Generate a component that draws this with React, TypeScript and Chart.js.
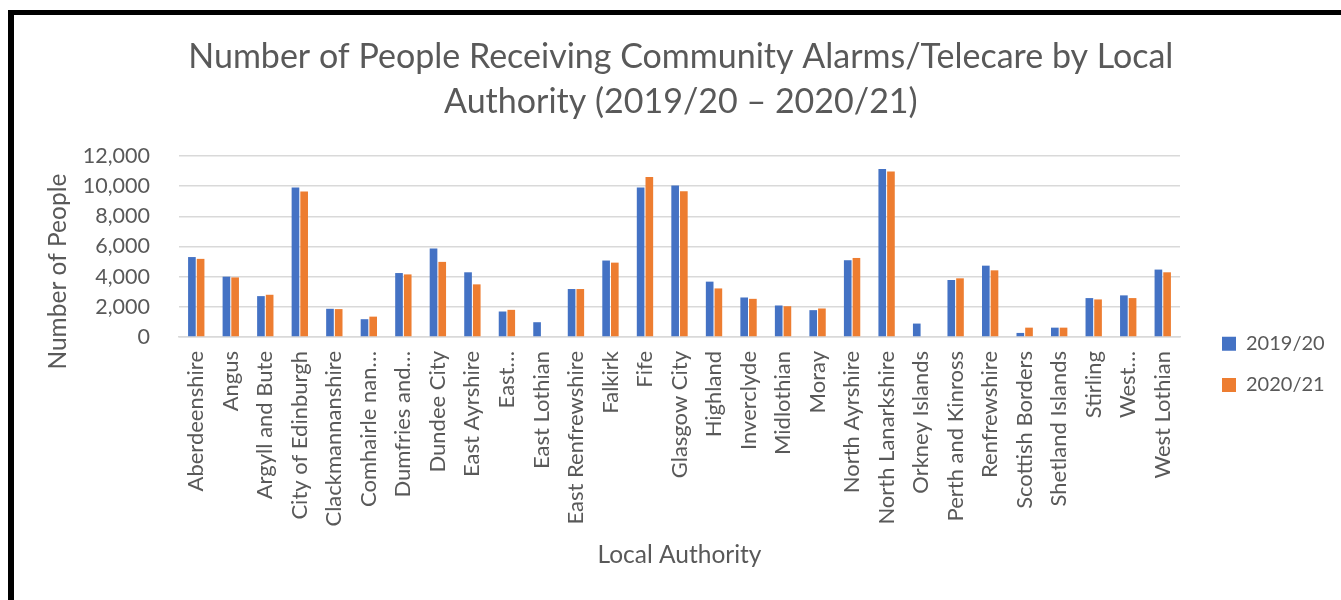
import React, { useEffect, useRef } from "react";
import { Chart, registerables } from "chart.js";

Chart.register(...registerables);

const categories: string[] = [
  "Aberdeenshire", "Angus", "Argyll and Bute", "City of Edinburgh", "Clackmannanshire",
  "Comhairle nan…", "Dumfries and…", "Dundee City", "East Ayrshire", "East…",
  "East Lothian", "East Renfrewshire", "Falkirk", "Fife", "Glasgow City",
  "Highland", "Inverclyde", "Midlothian", "Moray", "North Ayrshire",
  "North Lanarkshire", "Orkney Islands", "Perth and Kinross", "Renfrewshire", "Scottish Borders",
  "Shetland Islands", "Stirling", "West…", "West Lothian",
];

const values2019: (number | null)[] = [
  5300, 4000, 2710, 9910, 1870, 1180, 4240, 5870, 4290, 1690,
  980, 3180, 5070, 9910, 10040, 3670, 2620, 2090, 1780, 5090,
  11130, 890, 3780, 4730, 270, 620, 2580, 2760, 4470,
];

const values2020: (number | null)[] = [
  5180, 3950, 2800, 9640, 1850, 1350, 4150, 4980, 3490, 1800,
  null, 3180, 4930, 10600, 9670, 3220, 2530, 2040, 1890, 5240,
  10980, null, 3890, 4420, 620, 620, 2490, 2580, 4290,
];

const seriesLabels = ["2019/20", "2020/21"];
const titleLines = [
  "Number of People Receiving Community Alarms/Telecare by Local",
  "Authority (2019/20 – 2020/21)",
];
// trailing spaces nudge the rotated title toward the bottom, as in the original
const yTitle = "Number of People        ";
const xTitle = "Local Authority";

const FONT = "Lato";
const TEXT = "#595959";

export default function App() {
  const canvasRef = useRef<HTMLCanvasElement | null>(null);

  useEffect(() => {
    let chart: Chart | null = null;
    let cancelled = false;
    const build = () => {
      if (cancelled || !canvasRef.current) return;
      chart = new Chart(canvasRef.current, {
        type: "bar",
        data: {
          labels: categories,
          datasets: [
            {
              label: seriesLabels[0],
              data: values2019,
              backgroundColor: "#4472C4",
              categoryPercentage: 0.504,
              barPercentage: 0.88,
            },
            {
              label: seriesLabels[1],
              data: values2020,
              backgroundColor: "#ED7D31",
              categoryPercentage: 0.504,
              barPercentage: 0.88,
            },
          ],
        },
        options: {
          responsive: false,
          animation: false,
          layout: { padding: { left: 35, right: 14.3, top: 0, bottom: 0 } },
          plugins: {
            tooltip: { enabled: false },
            title: {
              display: true,
              text: titleLines,
              color: TEXT,
              font: { family: FONT, size: 34, weight: "normal", lineHeight: 45 / 34 },
              padding: { top: 34.5, bottom: 31.5 },
            },
            legend: {
              position: "right",
              fullSize: true,
              align: "start",
              maxWidth: 126,
              title: {
                display: true,
                text: "",
                padding: { top: 302.4, bottom: 0 },
                font: { size: 10, lineHeight: 1 },
              },
              labels: {
                boxWidth: 14,
                boxHeight: 14,
                padding: 21.3,
                color: TEXT,
                font: { family: FONT, size: 20 },
              },
            },
          },
          scales: {
            x: {
              grid: { display: false, drawTicks: false },
              border: { display: true, color: "#d9d9d9", width: 1.5 },
              ticks: {
                autoSkip: false,
                minRotation: 90,
                maxRotation: 90,
                padding: 14,
                color: TEXT,
                font: { family: FONT, size: 22 },
              },
              title: {
                display: true,
                text: xTitle,
                color: TEXT,
                font: { family: FONT, size: 24.5, lineHeight: 1.2 },
                padding: { top: 0, bottom: 30.3 },
              },
              afterFit: (s: any) => {
                s.height = 263;
              },
            },
            y: {
              min: 0,
              max: 12000,
              ticks: {
                stepSize: 2000,
                padding: 29,
                color: TEXT,
                font: { family: FONT, size: 21.5 },
                callback: (v: any) => Number(v).toLocaleString("en-US"),
              },
              grid: { color: "#d9d9d9", lineWidth: 1.5, drawTicks: false },
              border: { display: false },
              title: {
                display: true,
                text: yTitle,
                color: TEXT,
                font: { family: FONT, size: 24.5, lineHeight: 1.2 },
                padding: { top: 8.3, bottom: 0 },
              },
              afterFit: (s: any) => {
                s.width = 144;
              },
            },
            y2: {
              type: "linear",
              position: "right",
              display: true,
              grid: { display: false, drawTicks: false },
              border: { display: false },
              ticks: { display: false },
              afterFit: (s: any) => {
                s.width = 20.7;
              },
            },
          },
        },
      } as any);
    };
    const fonts: any = (document as any).fonts;
    if (fonts && fonts.load) {
      Promise.all([fonts.load(`20px ${FONT}`), fonts.load(`34px ${FONT}`)])
        .catch(() => null)
        .then(build);
    } else {
      build();
    }
    return () => {
      cancelled = true;
      if (chart) chart.destroy();
    };
  }, []);

  return (
    <div style={{ position: "fixed", left: 0, top: 0, width: 1341, height: 600, overflow: "hidden", background: "#fff" }}>
      <div
        style={{
          position: "absolute",
          left: 8,
          top: 10,
          width: 1400,
          height: 700,
          borderLeft: "6px solid #000",
          borderTop: "5px solid #000",
          boxSizing: "border-box",
        }}
      />
      <canvas
        ref={canvasRef}
        width={1341}
        height={600}
        style={{ position: "absolute", left: 0, top: 0, display: "block" }}
      />
    </div>
  );
}
